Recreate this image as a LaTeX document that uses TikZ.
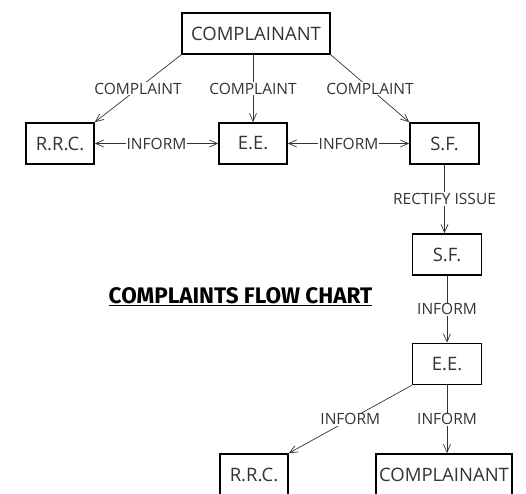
\documentclass[tikz,border=0pt]{standalone}
\usepackage{fontspec}
\setmainfont{Open Sans}
\newfontfamily\titlefont{Fira Sans}
\usetikzlibrary{arrows.meta}
\definecolor{txt}{HTML}{333333}
\begin{document}
\begin{tikzpicture}[x=1pt,y=-1pt,
  box/.style={draw=black,line width=1.7pt,inner sep=0pt,minimum height=41pt,text=txt,font=\fontsize{18.5}{21}\selectfont},
  conn/.style={draw=black!80,line width=0.7pt,-{Straight Barb[length=8pt,width=7pt]}},
  both/.style={draw=black!80,line width=0.7pt,{Straight Barb[length=8pt,width=7pt]}-{Straight Barb[length=8pt,width=7pt]}},
  lbl/.style={fill=white,inner sep=1pt,text=txt,font=\fontsize{15.5}{17}\selectfont}]
\useasboundingbox (0,0) rectangle (526,493);
\node[box,minimum width=148pt] (c1) at (256,33.5) {COMPLAINANT};
\node[box,minimum width=68pt] (r1) at (60,143.5) {R.R.C.};
\node[box,minimum width=68pt] (e1) at (253,143.5) {E.E.};
\node[box,minimum width=69pt] (s1) at (444.5,143.5) {S.F.};
\node[box,minimum width=69pt] (s2) at (447,254.5) {S.F.};
\node[box,minimum width=69pt] (e2) at (447,364) {E.E.};
\node[box,minimum width=68pt] (r2) at (254,474.5) {R.R.C.};
\node[box,minimum width=136pt] (c2) at (444,474.5) {COMPLAINANT};
\node[font=\titlefont\bfseries\fontsize{22.5}{25}\selectfont,text=black,inner sep=0pt] (title) at (240.5,297) {\underline{COMPLAINTS FLOW CHART}};
\draw[conn] (c1.south west) -- node[lbl] {COMPLAINT} (r1.north east);
\draw[conn] (c1.south -| e1.north) -- node[lbl] {COMPLAINT} (e1.north);
\draw[conn] (c1.south east) -- node[lbl] {COMPLAINT} (s1.north west);
\draw[both] (r1.east) -- node[lbl] {INFORM} (e1.west);
\draw[both] (e1.east) -- node[lbl] {INFORM} (s1.west);
\draw[conn] (s1.south) -- node[lbl] {RECTIFY ISSUE} (s1.south |- s2.north);
\draw[conn] (s2.south) -- node[lbl] {INFORM} (e2.north);
\draw[conn] (e2.south west) -- node[lbl] {INFORM} (r2.north east);
\draw[conn] (e2.south) -- node[lbl] {INFORM} (e2.south |- c2.north);
\end{tikzpicture}
\end{document}
